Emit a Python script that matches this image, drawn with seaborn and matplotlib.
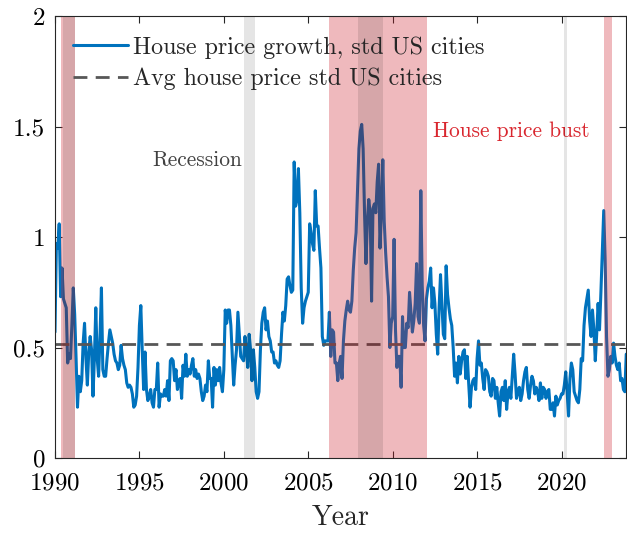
import matplotlib
matplotlib.use("Agg")  # headless
import matplotlib.pyplot as plt
from matplotlib.ticker import FuncFormatter
import numpy as np
import pandas as pd
import seaborn as sns


# ── Data (monthly) ────────────────────────────────────────────────────────────

start_year = 1990

hp_std = [
    # 1990
    0.57, 0.97, 0.95, 1.06, 0.73, 0.86, 0.72, 0.70, 0.68, 0.43, 0.47, 0.45,
    # 1991
    0.60, 0.77, 0.65, 0.45, 0.23, 0.37, 0.30, 0.35, 0.52, 0.61, 0.45, 0.33,
    # 1992
    0.48, 0.55, 0.49, 0.28, 0.45, 0.68, 0.45, 0.37, 0.55, 0.77, 0.40, 0.37,
    # 1993
    0.37, 0.45, 0.52, 0.58, 0.55, 0.52, 0.47, 0.44, 0.43, 0.40, 0.42, 0.51,
    # 1994
    0.45, 0.42, 0.40, 0.34, 0.32, 0.33, 0.32, 0.29, 0.23, 0.24, 0.28, 0.41,
    # 1995
    0.60, 0.69, 0.49, 0.31, 0.48, 0.31, 0.26, 0.28, 0.31, 0.25, 0.23, 0.31,
    # 1996
    0.31, 0.43, 0.23, 0.29, 0.28, 0.28, 0.31, 0.28, 0.35, 0.26, 0.44, 0.45,
    # 1997
    0.44, 0.35, 0.40, 0.31, 0.35, 0.36, 0.27, 0.42, 0.37, 0.47, 0.37, 0.40, 0.38,
    # 1998
    0.42, 0.45, 0.37, 0.40, 0.36, 0.38, 0.36, 0.30, 0.26, 0.28, 0.33, 0.30,
    # 1999
    0.44, 0.36, 0.36, 0.23, 0.41, 0.33, 0.40, 0.35, 0.41, 0.34, 0.30, 0.40,
    # 2000
    0.67, 0.61, 0.67, 0.67, 0.60, 0.46, 0.33, 0.42, 0.49, 0.66, 0.56, 0.46,
    # 2001
    0.45, 0.44, 0.55, 0.49, 0.41, 0.56, 0.49, 0.35, 0.49, 0.41, 0.30, 0.27,
    # 2002
    0.30, 0.49, 0.61, 0.66, 0.68, 0.58, 0.62, 0.55, 0.53, 0.48, 0.48, 0.43,
    # 2003
    0.44, 0.42, 0.41, 0.44, 0.56, 0.66, 0.62, 0.69, 0.81, 0.82, 0.78, 0.75,
    # 2004
    0.76, 1.34, 1.14, 1.17, 1.31, 1.11, 0.77, 0.61, 0.68, 0.71, 0.73, 0.75,
    # 2005
    1.06, 1.02, 0.97, 0.94, 1.21, 1.05, 1.05, 0.95, 0.86, 0.55, 0.51, 0.53,
    # 2006
    0.53, 0.53, 0.66, 0.46, 0.58, 0.57, 0.43, 0.43, 0.35, 0.43, 0.46, 0.36,
    # 2007
    0.53, 0.62, 0.67, 0.71, 0.67, 0.66, 0.71, 0.85, 0.95, 1.02, 1.21, 1.40,
    # 2008
    1.48, 1.51, 1.40, 1.11, 0.88, 1.07, 1.17, 1.11, 0.71, 1.13, 1.15, 1.11,
    # 2009
    1.25, 1.33, 0.95, 1.12, 1.35, 1.07, 0.93, 0.82, 0.73, 0.50, 0.61, 0.64,
    # 2010
    0.99, 0.58, 0.41, 0.46, 0.46, 0.32, 0.64, 0.50, 0.50, 0.61, 0.59, 0.75, 0.66,
    # 2011
    0.57, 0.62, 0.70, 0.88, 0.64, 0.61, 1.21, 0.78, 0.60, 0.53, 0.72, 0.77,
    # 2012
    0.80, 0.86, 0.68, 0.77, 0.70, 0.56, 0.47, 0.68, 0.83, 0.70, 0.56, 0.54,
    # 2013
    0.87, 0.74, 0.68, 0.63, 0.60, 0.50, 0.37, 0.43, 0.34, 0.46, 0.38, 0.44,
    # 2014
    0.48, 0.49, 0.36, 0.46, 0.34, 0.23, 0.32, 0.35, 0.36, 0.31, 0.45, 0.53,
    # 2015
    0.42, 0.43, 0.36, 0.31, 0.40, 0.39, 0.37, 0.30, 0.28, 0.36, 0.35, 0.27,
    # 2016
    0.32, 0.25, 0.19, 0.30, 0.32, 0.26, 0.35, 0.22, 0.30, 0.32, 0.27, 0.37,
    # 2017
    0.47, 0.38, 0.27, 0.30, 0.32, 0.26, 0.29, 0.35, 0.39, 0.41, 0.31, 0.27, 0.33,
    # 2018
    0.37, 0.35, 0.29, 0.32, 0.30, 0.26, 0.34, 0.27, 0.32, 0.31, 0.27, 0.30,
    # 2019
    0.31, 0.22, 0.22, 0.25, 0.19, 0.28, 0.24, 0.26, 0.27, 0.29, 0.29, 0.33,
    # 2020
    0.39, 0.30, 0.19, 0.36, 0.43, 0.40, 0.30, 0.28, 0.26, 0.25, 0.31, 0.45,
    # 2021
    0.44, 0.60, 0.68, 0.72, 0.76, 0.62, 0.55, 0.67, 0.58, 0.44, 0.56, 0.70,
    # 2022
    0.58, 0.75, 0.94, 1.12, 0.90, 0.55, 0.37, 0.40, 0.46, 0.43, 0.52, 0.46,
    # 2023
    0.42, 0.40, 0.43, 0.35, 0.36, 0.31, 0.30, 0.47,
]

avg_std = 0.515

recession_start = [1990.50, 2001.17, 2007.95, 2020.12]
recession_end   = [1991.17, 2001.83, 2009.43, 2020.30]
bust_start      = [1990.33, 2006.23, 2022.53]
bust_end        = [1991.17, 2012.06, 2023.00]

x_ticks = [1990, 1995, 2000, 2005, 2010, 2015, 2020]
y_ticks = [0, 0.5, 1, 1.5, 2]

line_label = "House price growth, std US cities"
avg_label  = "Avg house price std US cities"


# ── Style ─────────────────────────────────────────────────────────────────────

sns.set_style("ticks")
plt.rcParams.update({
    "font.family": "serif",
    "font.serif": ["cmr10", "DejaVu Serif"],
    "mathtext.fontset": "cm",
    "axes.formatter.use_mathtext": True,
    "axes.unicode_minus": False,
})

df = pd.DataFrame({
    "Year": start_year + np.arange(len(hp_std)) / 12,
    "std": hp_std,
})

fig = plt.figure(figsize=(6.27, 5.33), dpi=100)
ax = fig.add_axes([0.0877, 0.1407, 0.911, 0.829])

sns.lineplot(data=df, x="Year", y="std", color="#0072BD", lw=2.2,
             ax=ax, label=line_label)
ax.axhline(avg_std, color="#575757", lw=2.0, dashes=(5, 3), label=avg_label)
for ln in ax.lines:
    ln.set_zorder(1.5)

# shaded periods drawn on top of the line (semi-transparent)
for s, e in zip(bust_start, bust_end):
    ax.axvspan(s, e, facecolor=(0.8, 0.1, 0.15), alpha=0.3, lw=0, zorder=4)
for s, e in zip(recession_start, recession_end):
    ax.axvspan(s, e, facecolor="k", alpha=0.1, lw=0, zorder=4)

ax.text(1998.45, 1.35, "Recession", ha="center", va="center",
        color="#404040", fontsize=15.4)
ax.text(2017.0, 1.48, "House price bust", ha="center", va="center",
        color="#D9262E", fontsize=15.4)

ax.set_xlim(1990, 2023.83)
ax.set_ylim(0, 2)
ax.set_xticks(x_ticks)
ax.set_yticks(y_ticks)
ax.yaxis.set_major_formatter(FuncFormatter(lambda v, _: f"{v:g}"))
ax.set_xlabel("Year", fontsize=20, labelpad=8)
ax.set_ylabel("")

ax.tick_params(direction="in", top=True, right=True, length=5, width=0.8,
               labelsize=18, colors="#262626", labelcolor="black")
ax.tick_params(axis="y", pad=7)
ax.tick_params(axis="x", pad=10)
for sp in ax.spines.values():
    sp.set_visible(True)
    sp.set_linewidth(0.8)
    sp.set_color("#262626")
    sp.set_zorder(5)

handles, labels = ax.get_legend_handles_labels()
leg = ax.legend(handles, labels, loc="upper left",
                bbox_to_anchor=(0.0315, 0.955), frameon=False, fontsize=17.3,
                handlelength=2.3, handletextpad=0.2, labelspacing=0.38,
                borderpad=0, borderaxespad=0)
leg.set_zorder(6)

fig.savefig("out.png", dpi=100)
plt.close(fig)
